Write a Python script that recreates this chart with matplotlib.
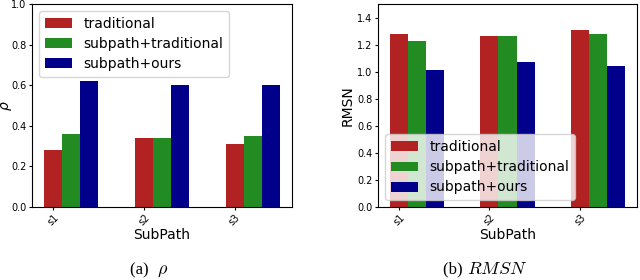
import numpy as np
from matplotlib import pyplot as plt

subpaths = ['s1', 's2', 's3']
labels = ['traditional', 'subpath+traditional', 'subpath+ours']

rho_traditional = [0.28, 0.34, 0.31]
rho_subpath_trad = [0.36, 0.34, 0.35]
rho_subpath_ours = [0.62, 0.60, 0.60]

rmsn_traditional = [1.28, 1.26, 1.31]
rmsn_subpath_trad = [1.23, 1.26, 1.28]
rmsn_subpath_ours = [1.01, 1.07, 1.04]

colors = ['#b22222', '#228b22', '#00008b']
width = 0.2


def draw(ax, series, ylim, legend_loc):
    x = np.arange(len(subpaths))
    for i, vals in enumerate(series):
        ax.bar(x + i * width, vals, width, color=colors[i], label=labels[i])
    ax.set_xticks(x)
    ax.set_xticklabels(subpaths, rotation=45, fontsize=7)
    ax.tick_params(axis='both', labelsize=7, length=2.5, pad=1.5)
    ax.set_ylim(*ylim)
    ax.set_xlabel('SubPath', fontsize=10, labelpad=0)
    ax.legend(loc=legend_loc, fontsize=10, handlelength=2.0,
              borderpad=0.4, labelspacing=0.45)


fig = plt.figure(figsize=(6.4, 2.8), dpi=100)
ax1 = fig.add_axes([32 / 640, 1 - 207 / 280, 260 / 640, 203 / 280])
ax2 = fig.add_axes([378 / 640, 1 - 207 / 280, 259 / 640, 203 / 280])

draw(ax1, [rho_traditional, rho_subpath_trad, rho_subpath_ours],
     (0, 1.0), 'upper left')
draw(ax2, [rmsn_traditional, rmsn_subpath_trad, rmsn_subpath_ours],
     (0, 1.5), 'lower left')

# y labels
fig.text(7 / 640, 1 - 106 / 280, r'$\rho$', fontsize=10, rotation=90,
         ha='center', va='center')
ax2.set_ylabel('RMSN', fontsize=10)
ax2.yaxis.set_label_coords(-0.09, 0.5)

fig.text(157 / 640, 1 - 270 / 280, '(a)  ', family='Liberation Serif',
         fontsize=12, ha='right', va='center')
fig.text(157 / 640, 1 - 270 / 280, r'$\rho$', math_fontfamily='cm',
         fontsize=13, ha='left', va='center')
fig.text(467 / 640, 1 - 269 / 280, '(b) ', family='Liberation Serif',
         fontsize=12, ha='right', va='center')
fig.text(467 / 640, 1 - 269 / 280, r'$RMSN$', math_fontfamily='cm',
         fontsize=13, ha='left', va='center')

plt.savefig('out.png', dpi=100)
